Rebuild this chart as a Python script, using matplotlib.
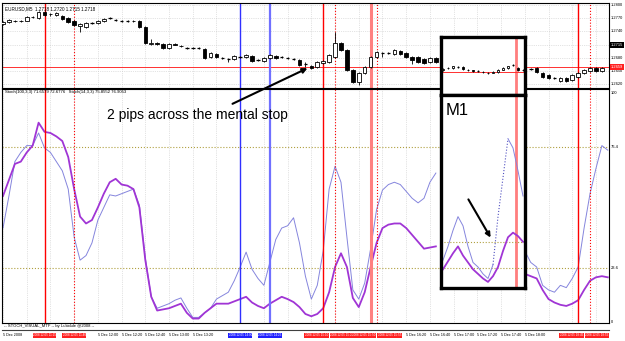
import numpy as np
import matplotlib.pyplot as plt
from matplotlib.patches import Rectangle

plt.rcParams['font.family'] = ['Liberation Sans', 'DejaVu Sans']

W, H = 625, 341
nan = np.nan

# EURUSD M5 candles, bars 74-88 are hidden behind the M1 inset
opens = [1.2757, 1.2762, 1.2764, 1.2764, 1.2764, 1.2773, 1.2770, 1.2784, 1.2779, 1.2777,
         1.2775, 1.2770, 1.2764, 1.2752, 1.2750, 1.2759, 1.2759, 1.2764, 1.2770, 1.2766,
         1.2764, 1.2764, 1.2764, 1.2764, 1.2750, 1.2711, 1.2713, 1.2711, 1.2702, 1.2711,
         1.2707, 1.2702, 1.2702, 1.2702, 1.2700, 1.2681, 1.2688, 1.2679, 1.2677, 1.2677,
         1.2681, 1.2681, 1.2684, 1.2675, 1.2672, 1.2679, 1.2684, 1.2681, 1.2679, 1.2677,
         1.2675, 1.2666, 1.2661, 1.2659, 1.2668, 1.2670, 1.2681, 1.2713, 1.2697, 1.2652,
         1.2624, 1.2645, 1.2659, 1.2681, 1.2691, 1.2691, 1.2688, 1.2695, 1.2691, 1.2681,
         1.2681, 1.2677, 1.2670, 1.2679, nan, nan, nan, nan, nan, nan,
         nan, nan, nan, nan, nan, nan, nan, nan, nan, 1.2654,
         1.2656, 1.2645, 1.2640, 1.2634, 1.2627, 1.2634, 1.2629, 1.2636, 1.2645, 1.2650,
         1.2656, 1.2650, nan]
closes = [1.2761, 1.2765, 1.2763, 1.2763, 1.2773, 1.2772, 1.2784, 1.2777, 1.2780, 1.2782,
          1.2768, 1.2761, 1.2754, 1.2757, 1.2759, 1.2759, 1.2764, 1.2768, 1.2770, 1.2766,
          1.2764, 1.2764, 1.2763, 1.2750, 1.2713, 1.2714, 1.2712, 1.2702, 1.2711, 1.2710,
          1.2706, 1.2702, 1.2702, 1.2702, 1.2679, 1.2691, 1.2681, 1.2679, 1.2677, 1.2684,
          1.2681, 1.2686, 1.2672, 1.2675, 1.2679, 1.2686, 1.2679, 1.2681, 1.2679, 1.2677,
          1.2663, 1.2666, 1.2656, 1.2670, 1.2672, 1.2686, 1.2713, 1.2697, 1.2652, 1.2624,
          1.2645, 1.2659, 1.2681, 1.2693, 1.2691, 1.2691, 1.2697, 1.2688, 1.2681, 1.2675,
          1.2670, 1.2668, 1.2679, 1.2670, nan, nan, nan, nan, nan, nan,
          nan, nan, nan, nan, nan, nan, nan, nan, nan, 1.2654,
          1.2647, 1.2636, 1.2634, 1.2634, 1.2634, 1.2627, 1.2640, 1.2645, 1.2652, 1.2656,
          1.2650, 1.2656, nan]
highs = [1.2763, 1.2767, 1.2766, 1.2766, 1.2775, 1.2775, 1.2786, 1.2786, 1.2782, 1.2784,
         1.2777, 1.2772, 1.2766, 1.2759, 1.2761, 1.2762, 1.2766, 1.2770, 1.2773, 1.2768,
         1.2766, 1.2766, 1.2766, 1.2766, 1.2752, 1.2722, 1.2715, 1.2713, 1.2713, 1.2713,
         1.2709, 1.2704, 1.2704, 1.2704, 1.2702, 1.2693, 1.2690, 1.2681, 1.2679, 1.2686,
         1.2683, 1.2688, 1.2686, 1.2677, 1.2681, 1.2688, 1.2686, 1.2683, 1.2681, 1.2679,
         1.2677, 1.2670, 1.2663, 1.2672, 1.2674, 1.2688, 1.2738, 1.2715, 1.2699, 1.2654,
         1.2647, 1.2661, 1.2683, 1.2695, 1.2693, 1.2693, 1.2699, 1.2697, 1.2693, 1.2683,
         1.2683, 1.2679, 1.2681, 1.2681, nan, nan, nan, nan, nan, nan,
         nan, nan, nan, nan, nan, nan, nan, nan, nan, 1.2656,
         1.2658, 1.2647, 1.2642, 1.2636, 1.2636, 1.2636, 1.2642, 1.2647, 1.2654, 1.2658,
         1.2658, 1.2658, nan]
lows = [1.2755, 1.2760, 1.2761, 1.2762, 1.2763, 1.2770, 1.2769, 1.2776, 1.2775, 1.2776,
        1.2766, 1.2759, 1.2752, 1.2738, 1.2748, 1.2756, 1.2757, 1.2762, 1.2767, 1.2764,
        1.2762, 1.2762, 1.2761, 1.2748, 1.2711, 1.2709, 1.2710, 1.2700, 1.2700, 1.2708,
        1.2704, 1.2700, 1.2700, 1.2700, 1.2677, 1.2679, 1.2679, 1.2677, 1.2670, 1.2675,
        1.2679, 1.2679, 1.2670, 1.2672, 1.2670, 1.2677, 1.2677, 1.2679, 1.2677, 1.2675,
        1.2661, 1.2659, 1.2654, 1.2657, 1.2666, 1.2668, 1.2679, 1.2695, 1.2650, 1.2622,
        1.2618, 1.2643, 1.2657, 1.2679, 1.2681, 1.2689, 1.2686, 1.2686, 1.2679, 1.2666,
        1.2668, 1.2666, 1.2668, 1.2668, nan, nan, nan, nan, nan, nan,
        nan, nan, nan, nan, nan, nan, nan, nan, nan, 1.2652,
        1.2645, 1.2634, 1.2632, 1.2632, 1.2625, 1.2625, 1.2627, 1.2634, 1.2643, 1.2648,
        1.2648, 1.2648, nan]

# stochastic lines of the main window
stoch_fast = [41, 55, 70, 74, 77, 77, 82.5, 76, 74, 70,
              66, 58, 37, 27, 29, 34.5, 44.5, 50, 55.5, 55,
              56, 57, 58, 51, 28, 11, 6, 7, 8, 9.5,
              10.5, 6, 2, 2, 4, 6, 10, 11.5, 13, 18,
              24, 30.5, 23, 19, 16, 26, 36, 41, 42, 45.5,
              34.5, 20, 10, 16, 31, 58, 68, 61, 37, 14,
              10, 17, 32, 49, 57.6, 60, 61, 60, 57, 54,
              52, 54, 61, 65, nan, nan, nan, nan, nan, nan,
              nan, nan, nan, nan, nan, nan, nan, nan, 31, 26,
              24, 16, 14, 13, 16, 15, 19, 24, 41, 56,
              67, 77, 75]
stoch_slow = [55, 62, 69, 70, 74, 77, 87, 83, 82.5, 81,
              79, 72, 58, 46, 43, 44.5, 50, 56, 61, 62.5,
              60, 59.5, 58, 50, 27, 11, 5, 5.5, 6, 7,
              8, 4, 1.5, 1.5, 4, 6, 8, 8, 8, 9,
              10, 11, 8.5, 7, 6, 8, 9.5, 11, 10, 8.7,
              6.5, 3.5, 2.5, 3.5, 6, 13, 24, 30, 24, 10.5,
              6.5, 13, 24, 34.5, 41, 42.5, 43, 43, 41, 38,
              35, 32, 32.5, 33, nan, nan, nan, nan, nan, nan,
              nan, nan, nan, nan, nan, nan, nan, nan, 21, 20,
              19, 14, 10, 8.5, 7.5, 7, 8, 9.5, 14, 18,
              19.5, 20, 19.5]

# M1 inset
m1_open = [1.2652, 1.2656, 1.2657, 1.2659, 1.2658, 1.2653, 1.2651, 1.2650, 1.2648,
           1.2645, 1.2646, 1.2648, 1.2653, 1.2657, 1.2663, 1.2656, 1.2652]
m1_close = [1.2655, 1.2657, 1.2660, 1.2659, 1.2654, 1.2652, 1.2650, 1.2650, 1.2647,
            1.2646, 1.2647, 1.2652, 1.2657, 1.2660, 1.2663, 1.2652, 1.2651]
m1_fast = [27, 33, 40, 46, 42, 33, 26, 24, 21, 19, 25, 46, 63, 80, 76, 66, 55]
m1_slow = [23, 26.5, 30, 33, 29, 26, 23, 21, 19, 17.5, 20, 24, 31, 37, 39, 37.5, 35]

# vertical lines (bar index, colour, style, width, label, label alignment)
vlines = [(7, '#ff0000', '-', 1.0, '2008.12.05 11:15', 'center'),
          (12, '#ff0000', ':', 0.8, '2008.12.05 11:40', 'center'),
          (40, '#3030ff', '-', 1.0, '2008.12.05 14:00', 'center'),
          (45, '#7070ff', '-', 1.6, '2008.12.05 14:25', 'center'),
          (54, '#ff0000', '-', 1.0, '2008.12.05 15:10', 'right'),
          (56, '#ff0000', ':', 0.8, '2008.12.05 15:20', 'left'),
          (62, '#ff8080', '-', 2.2, '2008.12.05 15:50', 'right'),
          (63, '#ff0000', ':', 0.8, '2008.12.05 15:55', 'left'),
          (97, '#ff0000', '-', 1.0, '2008.12.05 18:45', 'right'),
          (99, '#ff0000', ':', 0.8, '2008.12.05 18:55', 'left')]

price_ticks = [1.2800, 1.2770, 1.2740, 1.2710, 1.2680, 1.2650, 1.2620]
time_ticks = list(range(0, 103, 4))
time_labels = ['5 Dec 2008'] + ['5 Dec %d:%02d' % divmod(640 + 5 * i, 60) for i in time_ticks[1:]]


def rect(x0, y0, x1, y1):
    return [x0 / W, 1 - y1 / H, (x1 - x0) / W, (y1 - y0) / H]


def bar_px(i):
    return 3 + 5.93 * i


def candles(ax, o, c, h, l, width):
    for x in range(len(o)):
        if np.isnan(o[x]):
            continue
        ax.vlines(x, l[x], h[x], color='black', lw=0.6, zorder=3)
        lo, hi = min(o[x], c[x]), max(o[x], c[x])
        if hi - lo < 1e-5:
            ax.hlines(o[x], x - width / 2, x + width / 2, color='black', lw=0.9, zorder=3)
        else:
            face = 'white' if c[x] > o[x] else 'black'
            ax.add_patch(Rectangle((x - width / 2, lo), width, hi - lo, facecolor=face,
                                   edgecolor='black', lw=0.6, zorder=4))


def clean(ax):
    ax.set_xticks([])
    ax.set_yticks([])
    for s in ax.spines.values():
        s.set_linewidth(0.8)


fig = plt.figure(figsize=(6.25, 3.41), dpi=100)
fig.patch.set_facecolor('white')

xlim = (-0.17, 102.2)

# price window
ax1 = fig.add_axes(rect(2, 3, 609, 88))
ax1.set_xlim(xlim)
ax1.set_ylim(1.26109, 1.28046)
clean(ax1)
for p in price_ticks:
    ax1.axhline(p, color='#c8c8c8', lw=0.5, ls=':')
for t in time_ticks:
    ax1.axvline(t, color='#c8c8c8', lw=0.5, ls=':')
ax1.axhline(1.2659, color='#ff3030', lw=0.7)
candles(ax1, opens, closes, highs, lows, 0.6)
ax1.text(0.005, 0.96, 'EURUSD,M5  1.2718 1.2720 1.2715 1.2718', transform=ax1.transAxes,
         fontsize=3.3, va='top')

# stochastic window
ax2 = fig.add_axes(rect(2, 89, 609, 323))
ax2.set_xlim(xlim)
ax2.set_ylim(-0.44, 101.7)
clean(ax2)
for t in time_ticks:
    ax2.axvline(t, color='#c8c8c8', lw=0.5, ls=':')
for lv in (76.4, 23.6):
    ax2.axhline(lv, color='#b0a040', lw=0.8, ls=':')
xs = np.arange(len(stoch_fast))
ax2.plot(xs, stoch_fast, color='#8585dd', lw=0.7)
ax2.plot(xs, stoch_slow, color='#a035d5', lw=1.3)
ax2.text(0.005, 0.995, 'Stoch(100,3,3) 71.6579 72.6776   Stoch(14,3,3) 75.8552 76.9053',
         transform=ax2.transAxes, fontsize=3.1, va='top')

for x, col, ls, lw, lab, al in vlines:
    ax1.axvline(x, color=col, ls=ls, lw=lw, zorder=2)
    ax2.axvline(x, color=col, ls=ls, lw=lw, zorder=2)

# right axis labels
for p in price_ticks:
    if p in (1.2710,):
        continue
    y = 5 + (1.2800 - p) / 0.018 * 79
    fig.text(611 / W, 1 - y / H, '%.4f' % p, fontsize=2.9, va='center')
fig.text(611 / W, 1 - 45 / H, '1.2715', fontsize=2.9, va='center', color='white',
         bbox=dict(boxstyle='square,pad=0.2', fc='black', ec='none'))
fig.text(611 / W, 1 - 67 / H, '1.2659', fontsize=2.9, va='center', color='white',
         bbox=dict(boxstyle='square,pad=0.2', fc='#ff2020', ec='none'))
for v, lab in [(100, '100'), (76.4, '76.4'), (23.6, '23.6'), (0, '0')]:
    y = 323 - (v + 0.44) * 2.291
    fig.text(611 / W, 1 - y / H, lab, fontsize=2.9, va='center')

# M1 inset
ax3 = fig.add_axes(rect(441, 37, 525, 95), zorder=5)
ax4 = fig.add_axes(rect(441, 95, 525, 288), zorder=5)
for ax in (ax3, ax4):
    ax.set_xlim(-0.4, 16.4)
    ax.set_xticks([])
    ax.set_yticks([])
    for s in ax.spines.values():
        s.set_linewidth(2.4)
    ax.axvline(14.6, color='#ff7070', lw=2.0, alpha=0.9)
ax3.set_ylim(1.2595, 1.27271)
ax3.axhline(1.2647, color='#ff3030', lw=0.7)
m1_hi = [max(a, b) + 0.0002 for a, b in zip(m1_open, m1_close)]
m1_lo = [min(a, b) - 0.0002 for a, b in zip(m1_open, m1_close)]
candles(ax3, m1_open, m1_close, m1_hi, m1_lo, 0.55)
ax4.set_ylim(14.84, 99.1)
ax4.axhline(35, color='#b0a040', lw=0.8, ls=':')
ax4.axhline(23.6, color='#b0a040', lw=0.8, ls=':')
jx = np.arange(len(m1_fast))
ax4.plot(jx[:11], m1_fast[:11], color='#8585dd', lw=0.7)
ax4.plot(jx[10:14], m1_fast[10:14], color='#5050c0', lw=0.8, ls=':')
ax4.plot(jx[13:], m1_fast[13:], color='#8585dd', lw=0.7)
ax4.plot(jx, m1_slow, color='#a035d5', lw=1.3)

# annotations
fig.text(107 / W, 1 - 115 / H, '2 pips across the mental stop', fontsize=10,
         va='center', zorder=10)
fig.text(446 / W, 1 - 111 / H, 'M1', fontsize=12, va='center', zorder=10)
ax2.annotate('', xy=(310, H - 67), xytext=(230, H - 105), xycoords='figure pixels',
             textcoords='figure pixels', annotation_clip=False, zorder=10,
             arrowprops=dict(arrowstyle='-|>', color='black', lw=1.5, mutation_scale=7))
ax4.annotate('', xy=(492, H - 240), xytext=(467, H - 197), xycoords='figure pixels',
             textcoords='figure pixels', annotation_clip=False, zorder=10,
             arrowprops=dict(arrowstyle='-|>', color='black', lw=1.5, mutation_scale=7))

# indicator name strip and time axis
fig.text(4 / W, 1 - 326.5 / H, '-- STOCH_VISUAL_MTF -- by Lukidule @2008 --', fontsize=3.0,
         va='center')
fig.add_artist(plt.Line2D([2 / W, 609 / W], [1 - 330 / H, 1 - 330 / H], color='#404040', lw=0.8))

# label boxes of paired lines meet half way between the two lines
label_x = []
for k, (x, col, ls, lw, lab, al) in enumerate(vlines):
    if al == 'right':
        mid = (bar_px(x) + bar_px(vlines[k + 1][0])) / 2
        label_x.append(mid - 1 + (3 if x == 62 else 0))
    elif al == 'left':
        mid = (bar_px(x) + bar_px(vlines[k - 1][0])) / 2
        label_x.append(mid + 1 + (3 if x == 63 else 0))
    else:
        label_x.append(bar_px(x))

boxes = []
for lx, (x, col, ls, lw, lab, al) in zip(label_x, vlines):
    if al == 'right':
        boxes.append((lx - 21, lx))
    elif al == 'left':
        boxes.append((lx, lx + 21))
    else:
        boxes.append((lx - 11, lx + 11))

for t, lab in zip(time_ticks, time_labels):
    x = bar_px(t)
    if any(b0 < x + 20 and x < b1 for b0, b1 in boxes):
        continue
    fig.text(x / W, 1 - 335.5 / H, lab, fontsize=2.7, va='center')
for lx, (x, col, ls, lw, lab, al) in zip(label_x, vlines):
    fc = '#2020ff' if col in ('#3030ff', '#7070ff') else '#ff2020'
    fig.text(lx / W, 1 - 335.5 / H, lab, fontsize=2.15, va='center', ha=al,
             color='white', bbox=dict(boxstyle='square,pad=0.15', fc=fc, ec='none'))

fig.savefig('out.png', dpi=100)
